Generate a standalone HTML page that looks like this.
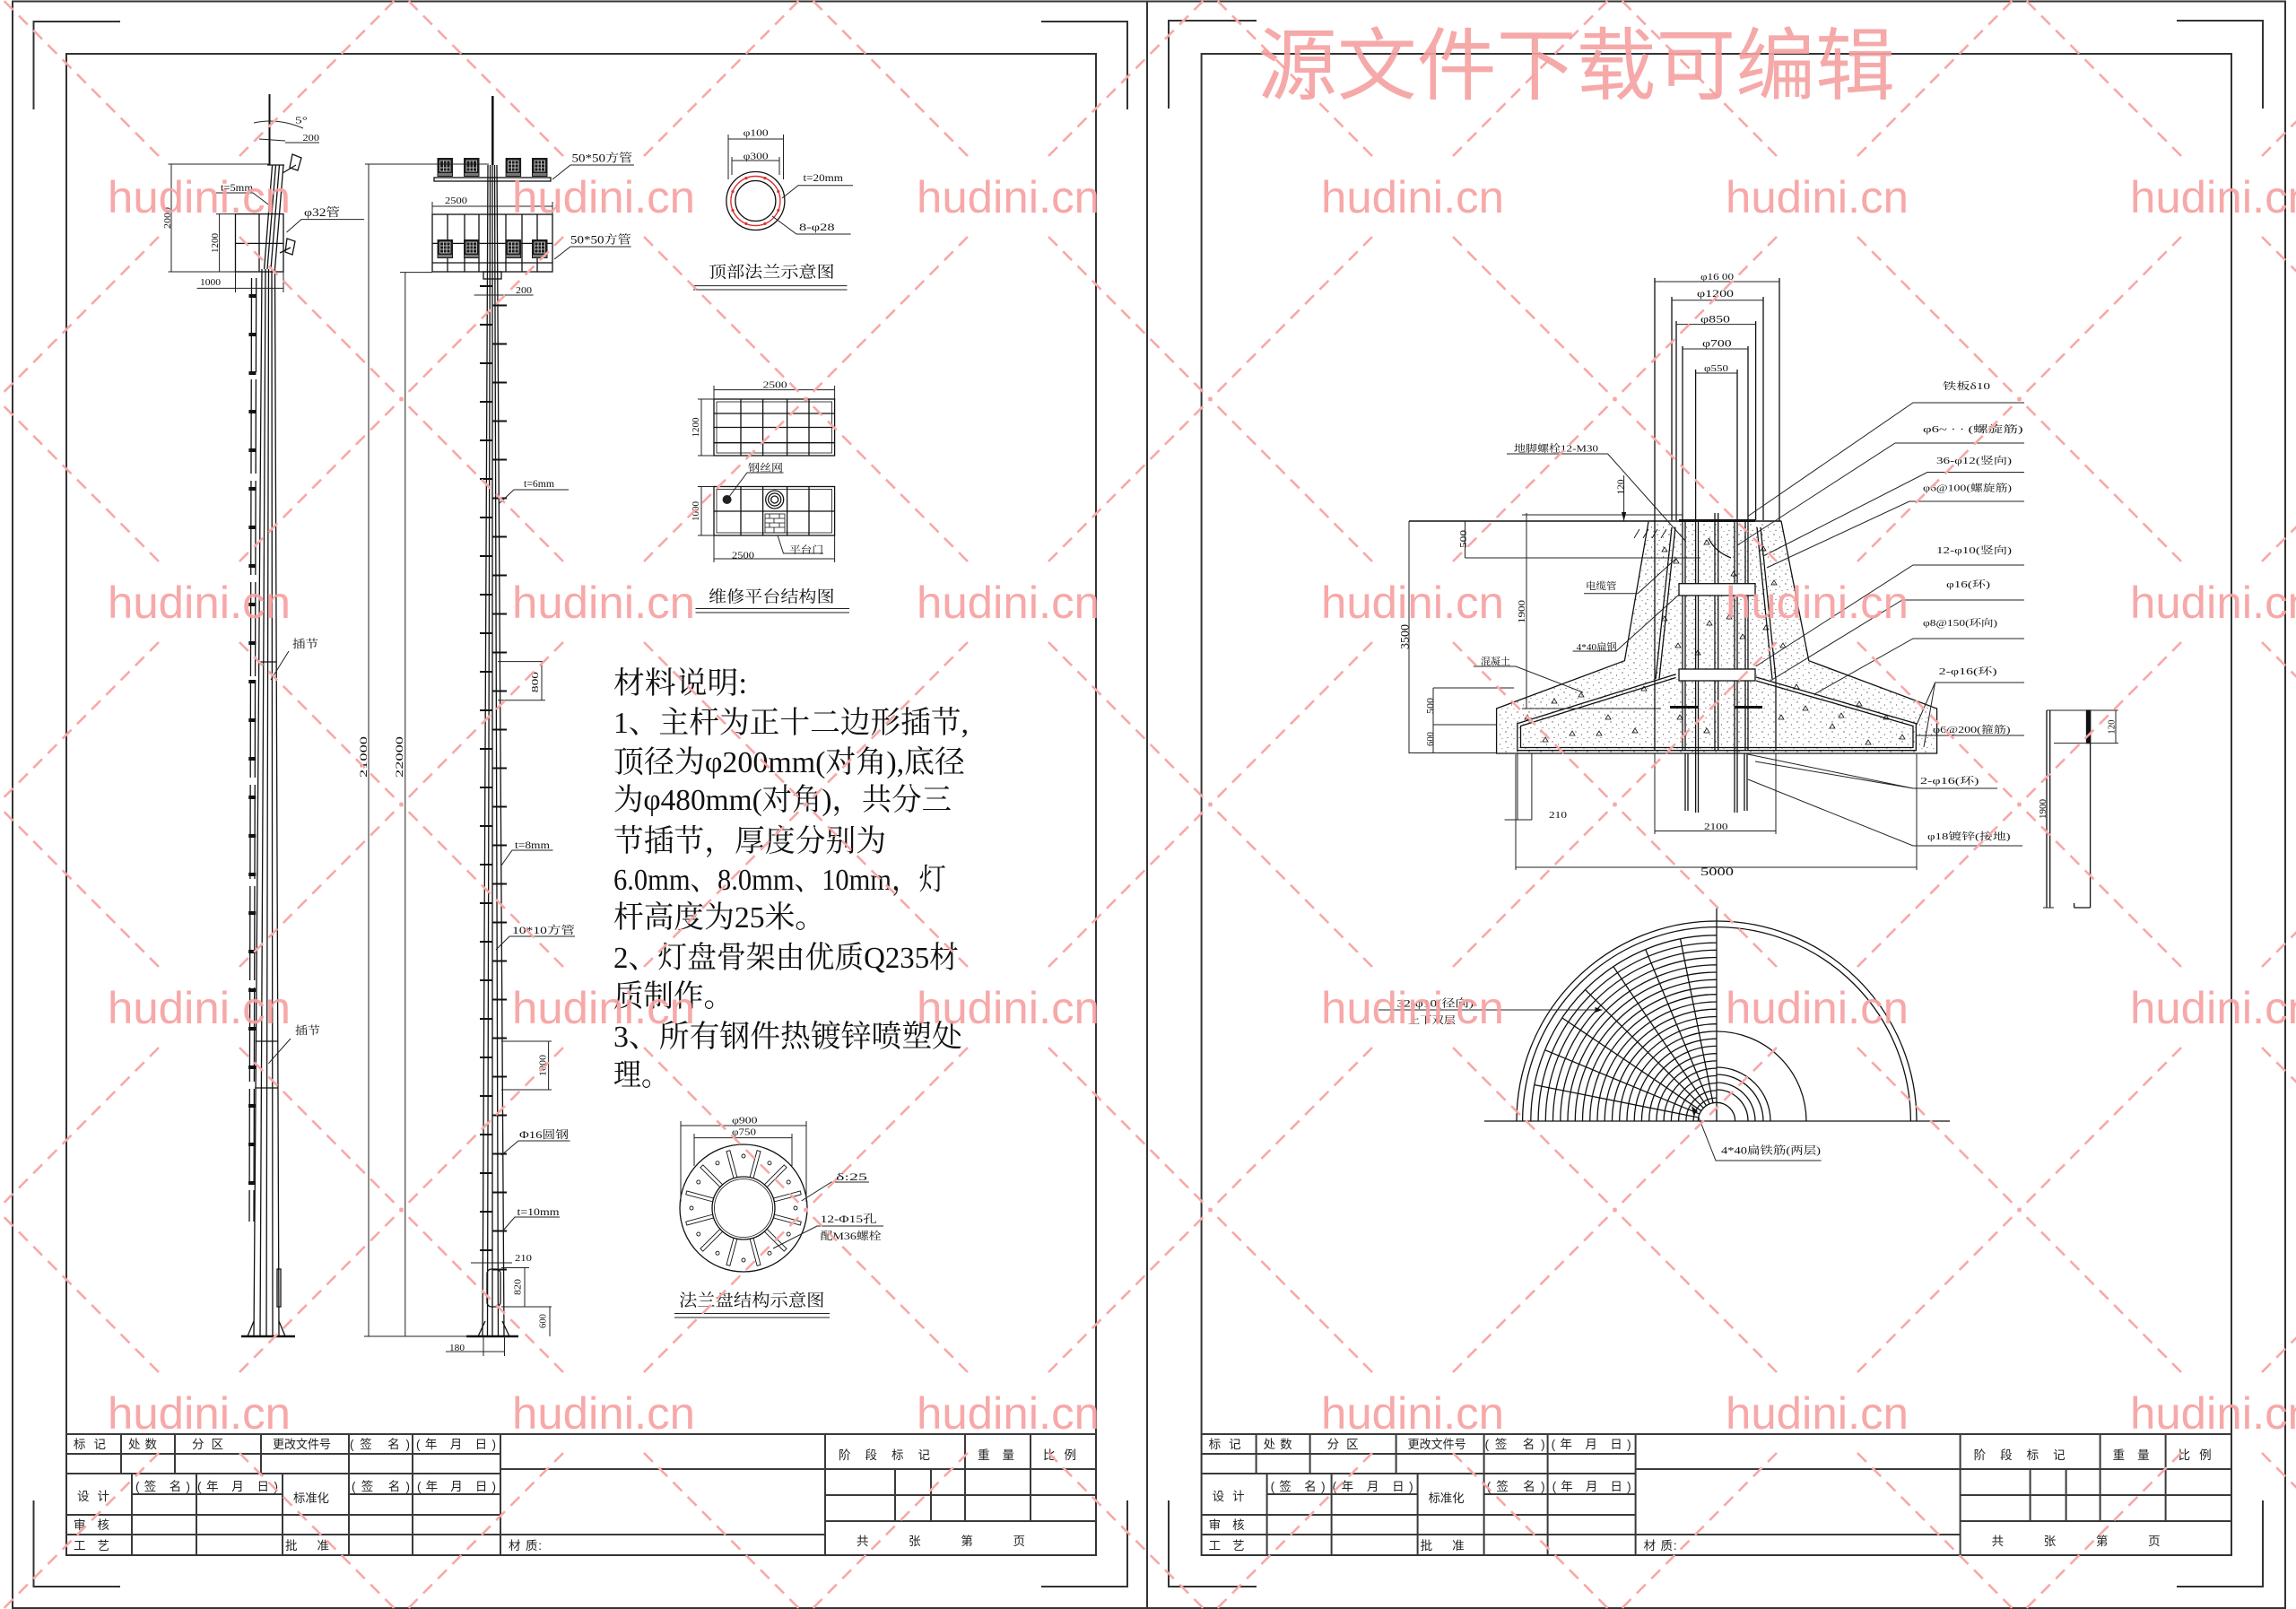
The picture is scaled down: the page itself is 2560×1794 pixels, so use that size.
<!DOCTYPE html>
<html><head><meta charset="utf-8">
<style>
html,body{margin:0;padding:0;background:#fff}
svg{display:block}
.k{fill:none;stroke:#111;stroke-width:1.3}
.d{fill:none;stroke:#222;stroke-width:1}
.fr{fill:none;stroke:#333;stroke-width:2}
.tb{fill:none;stroke:#3a3a3a;stroke-width:2}
.s{font-family:"Liberation Serif","Noto Serif CJK SC",serif;fill:#111}
.g{font-family:"Liberation Sans","Noto Sans CJK SC",sans-serif;fill:#222}
.w{font-family:"Liberation Sans",sans-serif;fill:#f6a1a1;font-size:50px}
</style></head>
<body>
<svg width="2560" height="1794" viewBox="0 0 2560 1794" xmlns="http://www.w3.org/2000/svg">
<defs>
<pattern id="wm" patternUnits="userSpaceOnUse" x="-3.5" y="-7" width="451" height="452">
<g stroke="#f9a7a7" stroke-width="2.6" stroke-dasharray="14 9" fill="none">
<line x1="270.5" y1="271" x2="451" y2="452"/>
<line x1="180.5" y1="181" x2="0" y2="0"/>
<line x1="270.5" y1="181" x2="451" y2="0"/>
<line x1="180.5" y1="271" x2="0" y2="452"/>
</g></pattern>
<pattern id="dots" patternUnits="userSpaceOnUse" width="13" height="11">
<circle cx="2" cy="2" r="0.7" fill="#555"/><circle cx="8.5" cy="5" r="0.6" fill="#555"/><circle cx="4" cy="8.5" r="0.6" fill="#555"/><circle cx="11" cy="9.5" r="0.5" fill="#555"/>
</pattern>
<g id="lamp"><rect x="0" y="0" width="17.5" height="21" fill="#1b1b1b"/><rect x="3" y="3" width="11.5" height="12" fill="none" stroke="#ddd" stroke-width="0.8"/><path d="M3 7h11.5M3 11h11.5M7 3v12M10.5 3v12" stroke="#ddd" stroke-width="0.8"/><rect x="1" y="17" width="15.5" height="3" fill="#777"/></g>
<clipPath id="lq"><rect x="1680" y="1020" width="234" height="230"/></clipPath>
<clipPath id="rq"><rect x="1914" y="1020" width="240" height="230"/></clipPath>
<clipPath id="up"><rect x="1680" y="1010" width="480" height="240"/></clipPath>
</defs>
<rect width="2560" height="1794" fill="#fff"/>

<!-- frames -->
<rect x="14" y="1.5" width="1265" height="1791.5" class="fr" stroke-width="1.5"/>
<rect x="1279" y="1.5" width="1269" height="1791.5" class="fr" stroke-width="1.5"/>
<rect x="74" y="60" width="1148" height="1674" class="fr"/>
<rect x="1339.6" y="60" width="1148.4" height="1674" class="fr"/>
<path class="fr" stroke-width="1.6" d="M37.5 122V24H134 M1161 24H1257V122 M37.5 1673V1769H134 M1161 1769H1257V1673 M1303 121V23H1401 M2427 23H2523V121 M1303 1673V1769H1401 M2427 1769H2523V1673"/>

<!-- ===== LEFT SHEET: POLE A ===== -->
<g class="k">
<path d="M300.5 105V184" stroke-width="2"/>
<path d="M298 184H317 M303.6 184L294.6 300 M316 184L306.5 300 M307.5 184L298 300 M311.5 184L302 300"/>
<path d="M292 300L283 1490 M306.5 300L311 1490 M296 300L290 1490 M299.5 300L297 1490 M303 300L304 1490"/>
<rect x="262.5" y="238.6" width="53.5" height="64.4"/>
<path d="M262.5 271.4H316 M289 238.6V303"/>
<path d="M315 193L330 184 M326 172l10 4-4 14-9-3z M312 282L324 276 M320 266l9 3-3 15-8-3z"/>
<path d="M285.7 310L283 1362 M280.5 310L278 1362" stroke-dasharray="105 8"/>
<line x1="281.5" y1="328" x2="281" y2="1350" stroke-width="8" stroke-dasharray="4 39"/>
<path d="M288.7 738H308.2 M284.6 1161H310.2 M284.2 1213H310.4"/>
<path d="M269 1490H329" stroke-width="2.5"/>
<path d="M283 1473L276 1490 M311 1473L318 1490"/>
<rect x="309" y="1415" width="4" height="42"/>
</g>
<g class="d">
<path d="M187.5 183H300 M187.5 303H262.5 M241 238.6H262.5 M191 183V303 M244.6 238.6V303"/>
<path d="M219.6 321.4H316 M262.5 303V326 M316 303V326"/>
<path d="M283 137Q310 131 338 143 M289 155L318 157 M318 159H356"/>
<path d="M241 215H282L300 228.6 M406 244.6H336L319.6 259"/>
<path d="M322 726L302 758 M324 1158L299.4 1185.7"/>
</g>
<text class="s" font-size="10" x="329" y="137.5" textLength="14" lengthAdjust="spacingAndGlyphs">5°</text>
<text class="s" font-size="11" x="337.5" y="157" textLength="18.5" lengthAdjust="spacingAndGlyphs">200</text>
<text class="s" font-size="11" transform="translate(186,243) rotate(-90)" y="4" text-anchor="middle" textLength="24" lengthAdjust="spacingAndGlyphs">2000</text>
<text class="s" font-size="11" transform="translate(239,271) rotate(-90)" y="4" text-anchor="middle" textLength="22" lengthAdjust="spacingAndGlyphs">1200</text>
<text class="s" font-size="11" x="223" y="318" textLength="23" lengthAdjust="spacingAndGlyphs">1000</text>
<text class="s" font-size="12" x="246" y="213" textLength="36" lengthAdjust="spacingAndGlyphs">t=5mm</text>
<text class="s" font-size="13" x="339" y="241" textLength="40" lengthAdjust="spacingAndGlyphs">φ32管</text>
<text class="s" font-size="12" x="326" y="722" textLength="29" lengthAdjust="spacingAndGlyphs">插节</text>
<text class="s" font-size="12" x="329" y="1153" textLength="28" lengthAdjust="spacingAndGlyphs">插节</text>

<!-- ===== POLE B ===== -->
<g class="k">
<path d="M549.3 107V184" stroke-width="2.5"/>
<path d="M544 184L538 1490 M554 184L562 1490 M549 184V1490 M546.5 184L543.5 1490 M551.5 184L555.5 1490"/>
<line x1="542" y1="318" x2="542" y2="1400" stroke-width="14" stroke-dasharray="2 41"/>
<line x1="557" y1="339.5" x2="557" y2="1420" stroke-width="16" stroke-dasharray="2 41"/>
<rect x="484" y="198" width="130" height="4"/>
<rect x="482" y="239" width="134" height="64"/>
<path d="M499 239V303 M518 239V303 M534 239V303 M564 239V303 M582 239V303 M599 239V303 M482 271.4H616 M482 293H616"/>
<rect x="539" y="303" width="20" height="8"/>
<rect x="543" y="1415" width="15" height="42" rx="5"/>
<path d="M520 1490H578" stroke-width="2.5"/>
<path d="M541 1473L533 1490 M560 1473L568 1490"/>
</g>
<use href="#lamp" x="487.5" y="176"/><use href="#lamp" x="517" y="176"/><use href="#lamp" x="563.6" y="176"/><use href="#lamp" x="593" y="176"/>
<use href="#lamp" x="487.5" y="267"/><use href="#lamp" x="517" y="267"/><use href="#lamp" x="563.6" y="267"/><use href="#lamp" x="593" y="267"/>
<g class="d">
<path d="M482 230H616 M482 225V239 M616 225V239"/>
<path d="M707 184H636L616 200 M703.6 275H636L618 289"/>
<path d="M411 183V1490 M407 183H545 M451.8 303.6V1490 M446 303.6H482 M406 1490H522"/>
<path d="M528.6 329H594.6 M634 546H573L557 561"/>
<path d="M555 737.6H608 M555 780.7H608 M604 737.6V780.7"/>
<path d="M616.5 948H571L559 965 M641 1044H568L553 1059 M635.5 1272H578L559 1288 M624 1357H574L560 1373"/>
<path d="M559 1161H615 M559 1215H615 M611.6 1161V1215"/>
<path d="M525 1408H571 M585 1413.5V1457 M559 1413.5H590 M559 1457H615 M613 1457V1490 M497 1507H562.5 M539 1490V1512 M562.5 1490V1512"/>
</g>
<text class="s" font-size="13" x="637.5" y="180.5" textLength="67.5" lengthAdjust="spacingAndGlyphs">50*50方管</text>
<text class="s" font-size="13" x="636" y="271.5" textLength="67.6" lengthAdjust="spacingAndGlyphs">50*50方管</text>
<text class="s" font-size="11" x="496" y="227" textLength="25" lengthAdjust="spacingAndGlyphs">2500</text>
<text class="s" font-size="11" x="575" y="327" textLength="18" lengthAdjust="spacingAndGlyphs">200</text>
<text class="s" font-size="12" x="584" y="543" textLength="34" lengthAdjust="spacingAndGlyphs">t=6mm</text>
<text class="s" font-size="12" transform="translate(405,844) rotate(-90)" y="4" text-anchor="middle" textLength="46" lengthAdjust="spacingAndGlyphs">21000</text>
<text class="s" font-size="12" transform="translate(445,844) rotate(-90)" y="4" text-anchor="middle" textLength="46" lengthAdjust="spacingAndGlyphs">22000</text>
<text class="s" font-size="11" transform="translate(596,760.6) rotate(-90)" y="4" text-anchor="middle" textLength="23" lengthAdjust="spacingAndGlyphs">800</text>
<text class="s" font-size="12" x="574" y="946" textLength="39" lengthAdjust="spacingAndGlyphs">t=8mm</text>
<text class="s" font-size="12" x="571" y="1041" textLength="70" lengthAdjust="spacingAndGlyphs">10*10方管</text>
<text class="s" font-size="11" transform="translate(604.6,1188) rotate(-90)" y="4" text-anchor="middle" textLength="24" lengthAdjust="spacingAndGlyphs">1000</text>
<text class="s" font-size="12" x="579" y="1269" textLength="55" lengthAdjust="spacingAndGlyphs">Φ16圆钢</text>
<text class="s" font-size="12" x="576.5" y="1355" textLength="47" lengthAdjust="spacingAndGlyphs">t=10mm</text>
<text class="s" font-size="11" x="574" y="1406" textLength="19" lengthAdjust="spacingAndGlyphs">210</text>
<text class="s" font-size="11" transform="translate(576.5,1435) rotate(-90)" y="4" text-anchor="middle" textLength="18" lengthAdjust="spacingAndGlyphs">820</text>
<text class="s" font-size="11" transform="translate(604.6,1473) rotate(-90)" y="4" text-anchor="middle" textLength="16" lengthAdjust="spacingAndGlyphs">600</text>
<text class="s" font-size="11" x="501" y="1506" textLength="17" lengthAdjust="spacingAndGlyphs">180</text>

<!-- ===== TOP FLANGE ===== -->
<g class="k">
<circle cx="842.4" cy="224" r="32.5"/>
<circle cx="842.4" cy="224" r="22.5"/>
<circle cx="842.4" cy="224" r="27.5" stroke="#e03030" stroke-width="1.4"/>
</g>
<g fill="#e03030">
<circle cx="867.8" cy="234.5" r="1.6"/><circle cx="852.9" cy="249.4" r="1.6"/><circle cx="831.9" cy="249.4" r="1.6"/><circle cx="817" cy="234.5" r="1.6"/>
<circle cx="817" cy="213.5" r="1.6"/><circle cx="831.9" cy="198.6" r="1.6"/><circle cx="852.9" cy="198.6" r="1.6"/><circle cx="867.8" cy="213.5" r="1.6"/>
</g>
<g class="d">
<path d="M812 155H873.5 M812 150V200 M873.5 150V200 M816 179H869 M816 175V195 M869 175V195"/>
<path d="M951 206.7H890L872 221 M948.6 261H888L861 241"/>
<path d="M773 318.6H944.5 M773 323H944.5"/>
</g>
<text class="s" font-size="10" x="828.6" y="151.5" textLength="28" lengthAdjust="spacingAndGlyphs">φ100</text>
<text class="s" font-size="10" x="828.6" y="177.5" textLength="28" lengthAdjust="spacingAndGlyphs">φ300</text>
<text class="s" font-size="12" x="895.5" y="202" textLength="44.5" lengthAdjust="spacingAndGlyphs">t=20mm</text>
<text class="s" font-size="12" x="891" y="257" textLength="39.6" lengthAdjust="spacingAndGlyphs">8-φ28</text>
<text class="s" font-size="18" x="790" y="309.5" textLength="140.6" lengthAdjust="spacingAndGlyphs">顶部法兰示意图</text>

<!-- ===== PLATFORM ===== -->
<g class="k">
<rect x="796" y="445" width="134.6" height="63"/>
<rect x="799" y="448" width="128.6" height="57" stroke-width="0.8"/>
<path d="M796 461H930.6 M796 476.5H930.6 M796 493.7H930.6 M826 445V508 M850.6 445V508 M877.6 445V508 M902 445V508"/>
<rect x="796" y="542.5" width="134.6" height="54.5"/>
<rect x="799" y="545.5" width="128.6" height="48.5" stroke-width="0.8"/>
<path d="M796 570H930.6 M826 542.5V597 M850.6 542.5V597 M877.6 542.5V597 M902 542.5V597"/>
<circle cx="863.7" cy="557" r="10"/><circle cx="863.7" cy="557" r="7"/><circle cx="863.7" cy="557" r="4"/>
<rect x="853" y="573" width="22" height="21" stroke-width="0.8"/>
<path d="M853 578H875 M853 583H875 M853 588H875 M858 573V578 M869 573V578 M863 578V583 M858 583V588 M869 583V588 M863 588V594" stroke-width="0.8"/>
</g>
<circle cx="810.6" cy="557" r="5" fill="#222"/>
<g class="d">
<path d="M796 434.6H930.6 M796 430V445 M930.6 430V445 M782 445V508 M778 445H796 M778 508H796"/>
<path d="M782 542.5V597 M778 542.5H796 M778 597H796 M796 623H930.6 M796 597V627 M930.6 597V627"/>
<path d="M873.5 527H833L810.6 557 M867 597L873.5 617H918"/>
<path d="M775.5 678.5H947 M775.5 683H947"/>
</g>
<text class="s" font-size="10" x="850.6" y="432.5" textLength="27" lengthAdjust="spacingAndGlyphs">2500</text>
<text class="s" font-size="10" transform="translate(775.5,476.5) rotate(-90)" y="3.5" text-anchor="middle" textLength="22" lengthAdjust="spacingAndGlyphs">1200</text>
<text class="s" font-size="11" x="834" y="525" textLength="39" lengthAdjust="spacingAndGlyphs">钢丝网</text>
<text class="s" font-size="10" transform="translate(775.5,570) rotate(-90)" y="3.5" text-anchor="middle" textLength="22" lengthAdjust="spacingAndGlyphs">1000</text>
<text class="s" font-size="10" x="816" y="622.5" textLength="25" lengthAdjust="spacingAndGlyphs">2500</text>
<text class="s" font-size="11" x="880" y="616.5" textLength="38" lengthAdjust="spacingAndGlyphs">平台门</text>
<text class="s" font-size="18" x="790" y="671.5" textLength="140.6" lengthAdjust="spacingAndGlyphs">维修平台结构图</text>

<!-- ===== TEXT BLOCK ===== -->
<g class="s" font-size="34">
<text x="684" y="773" textLength="149" lengthAdjust="spacingAndGlyphs">材料说明:</text>
<text x="684" y="817" textLength="396" lengthAdjust="spacingAndGlyphs">1、主杆为正十二边形插节,</text>
<text x="684" y="861" textLength="392" lengthAdjust="spacingAndGlyphs">顶径为φ200mm(对角),底径</text>
<text x="684" y="903" textLength="377" lengthAdjust="spacingAndGlyphs">为φ480mm(对角)，共分三</text>
<text x="684" y="949" textLength="304" lengthAdjust="spacingAndGlyphs">节插节，厚度分别为</text>
<text x="684" y="992" textLength="371" lengthAdjust="spacingAndGlyphs">6.0mm、8.0mm、10mm，灯</text>
<text x="684" y="1034" textLength="236" lengthAdjust="spacingAndGlyphs">杆高度为25米。</text>
<text x="684" y="1079" textLength="385" lengthAdjust="spacingAndGlyphs">2、灯盘骨架由优质Q235材</text>
<text x="684" y="1122" textLength="134" lengthAdjust="spacingAndGlyphs">质制作。</text>
<text x="684" y="1167" textLength="389" lengthAdjust="spacingAndGlyphs">3、所有钢件热镀锌喷塑处</text>
<text x="684" y="1210" textLength="62" lengthAdjust="spacingAndGlyphs">理。</text>
</g>

<!-- ===== FLANGE PLATE ===== -->
<g class="k">
<circle cx="829" cy="1347" r="71"/>
<circle cx="829" cy="1347" r="35"/>
<circle cx="829" cy="1347" r="32.5" stroke-width="0.8"/>
<g transform="translate(829,1347)" stroke-width="0.9">
<rect x="35" y="-2" width="31" height="4" transform="rotate(15)"/><rect x="35" y="-2" width="31" height="4" transform="rotate(45)"/>
<rect x="35" y="-2" width="31" height="4" transform="rotate(75)"/><rect x="35" y="-2" width="31" height="4" transform="rotate(105)"/>
<rect x="35" y="-2" width="31" height="4" transform="rotate(135)"/><rect x="35" y="-2" width="31" height="4" transform="rotate(165)"/>
<rect x="35" y="-2" width="31" height="4" transform="rotate(195)"/><rect x="35" y="-2" width="31" height="4" transform="rotate(225)"/>
<rect x="35" y="-2" width="31" height="4" transform="rotate(255)"/><rect x="35" y="-2" width="31" height="4" transform="rotate(285)"/>
<rect x="35" y="-2" width="31" height="4" transform="rotate(315)"/><rect x="35" y="-2" width="31" height="4" transform="rotate(345)"/>
<circle cx="58" cy="0" r="2"/><circle cx="58" cy="0" r="2" transform="rotate(30)"/><circle cx="58" cy="0" r="2" transform="rotate(60)"/>
<circle cx="58" cy="0" r="2" transform="rotate(90)"/><circle cx="58" cy="0" r="2" transform="rotate(120)"/><circle cx="58" cy="0" r="2" transform="rotate(150)"/>
<circle cx="58" cy="0" r="2" transform="rotate(180)"/><circle cx="58" cy="0" r="2" transform="rotate(210)"/><circle cx="58" cy="0" r="2" transform="rotate(240)"/>
<circle cx="58" cy="0" r="2" transform="rotate(270)"/><circle cx="58" cy="0" r="2" transform="rotate(300)"/><circle cx="58" cy="0" r="2" transform="rotate(330)"/>
</g>
</g>
<g class="d">
<path d="M759 1255H899 M774 1268.6H883 M759 1250V1340 M899 1250V1340 M774 1264V1300 M883 1264V1300"/>
<path d="M969 1318H927L893.6 1339 M985 1367H911L862 1392"/>
<path d="M752 1464.5H925 M752 1469H925"/>
</g>
<text class="s" font-size="10" x="816" y="1252.5" textLength="28.5" lengthAdjust="spacingAndGlyphs">φ900</text>
<text class="s" font-size="10" x="816" y="1265.5" textLength="27" lengthAdjust="spacingAndGlyphs">φ750</text>
<text class="s" font-size="12" x="932" y="1316" textLength="35" lengthAdjust="spacingAndGlyphs">δ:25</text>
<text class="s" font-size="12" x="914.6" y="1363" textLength="63" lengthAdjust="spacingAndGlyphs">12-Φ15孔</text>
<text class="s" font-size="12" x="914.6" y="1382" textLength="68" lengthAdjust="spacingAndGlyphs">配M36螺栓</text>
<text class="s" font-size="19" x="757" y="1456" textLength="162.5" lengthAdjust="spacingAndGlyphs">法兰盘结构示意图</text>

<!-- ===== TITLE BLOCKS ===== -->
<g>
<path class="tb" d="M74 1599H1222 M74 1621H558 M74 1643H558 M147 1666H315 M389 1666H558 M74 1689H558 M74 1711H920 M558 1638H1222 M920 1667H1222 M920 1696H1222 M135 1599V1643 M195 1599V1643 M291 1599V1643 M389 1599V1734 M460 1599V1734 M558 1599V1734 M147 1643V1734 M219 1643V1734 M315 1643V1734 M920 1599V1734 M1076 1599V1696 M1149 1599V1696 M998 1638V1696 M1038 1638V1696"/>
<g class="g" font-size="13.5">
<text x="82" y="1615" textLength="36" lengthAdjust="spacing">标 记</text>
<text x="143" y="1615" textLength="32" lengthAdjust="spacing">处 数</text>
<text x="214" y="1615" textLength="35" lengthAdjust="spacing">分 区</text>
<text x="304" y="1615" textLength="65" lengthAdjust="spacingAndGlyphs">更改文件号</text>
<text x="390" y="1615" textLength="67" lengthAdjust="spacing">(签 名)</text>
<text x="464" y="1615" textLength="89" lengthAdjust="spacing">(年 月 日)</text>
<text x="935" y="1627" textLength="102" lengthAdjust="spacing">阶 段 标 记</text>
<text x="1090" y="1627" textLength="41" lengthAdjust="spacing">重 量</text>
<text x="1163" y="1627" textLength="37" lengthAdjust="spacing">比 例</text>
<text x="86" y="1673" textLength="36" lengthAdjust="spacing">设 计</text>
<text x="151" y="1662" textLength="61" lengthAdjust="spacing">(签 名)</text>
<text x="220" y="1662" textLength="90" lengthAdjust="spacing">(年 月 日)</text>
<text x="327" y="1675" textLength="40" lengthAdjust="spacingAndGlyphs">标准化</text>
<text x="392" y="1662" textLength="65" lengthAdjust="spacing">(签 名)</text>
<text x="465" y="1662" textLength="88" lengthAdjust="spacing">(年 月 日)</text>
<text x="82" y="1705" textLength="40" lengthAdjust="spacing">审 核</text>
<text x="82" y="1728" textLength="40" lengthAdjust="spacing">工 艺</text>
<text x="318" y="1728" textLength="49" lengthAdjust="spacing">批 准</text>
<text x="567" y="1728" textLength="37" lengthAdjust="spacing">材 质:</text>
<text x="955" y="1723" textLength="188" lengthAdjust="spacing">共 张 第 页</text>
</g>
</g>
<g transform="translate(1265.6,0)">
<path class="tb" d="M74 1599H1222 M74 1621H558 M74 1643H558 M147 1666H315 M389 1666H558 M74 1689H558 M74 1711H920 M558 1638H1222 M920 1667H1222 M920 1696H1222 M135 1599V1643 M195 1599V1643 M291 1599V1643 M389 1599V1734 M460 1599V1734 M558 1599V1734 M147 1643V1734 M219 1643V1734 M315 1643V1734 M920 1599V1734 M1076 1599V1696 M1149 1599V1696 M998 1638V1696 M1038 1638V1696"/>
<g class="g" font-size="13.5">
<text x="82" y="1615" textLength="36" lengthAdjust="spacing">标 记</text>
<text x="143" y="1615" textLength="32" lengthAdjust="spacing">处 数</text>
<text x="214" y="1615" textLength="35" lengthAdjust="spacing">分 区</text>
<text x="304" y="1615" textLength="65" lengthAdjust="spacingAndGlyphs">更改文件号</text>
<text x="390" y="1615" textLength="67" lengthAdjust="spacing">(签 名)</text>
<text x="464" y="1615" textLength="89" lengthAdjust="spacing">(年 月 日)</text>
<text x="935" y="1627" textLength="102" lengthAdjust="spacing">阶 段 标 记</text>
<text x="1090" y="1627" textLength="41" lengthAdjust="spacing">重 量</text>
<text x="1163" y="1627" textLength="37" lengthAdjust="spacing">比 例</text>
<text x="86" y="1673" textLength="36" lengthAdjust="spacing">设 计</text>
<text x="151" y="1662" textLength="61" lengthAdjust="spacing">(签 名)</text>
<text x="220" y="1662" textLength="90" lengthAdjust="spacing">(年 月 日)</text>
<text x="327" y="1675" textLength="40" lengthAdjust="spacingAndGlyphs">标准化</text>
<text x="392" y="1662" textLength="65" lengthAdjust="spacing">(签 名)</text>
<text x="465" y="1662" textLength="88" lengthAdjust="spacing">(年 月 日)</text>
<text x="82" y="1705" textLength="40" lengthAdjust="spacing">审 核</text>
<text x="82" y="1728" textLength="40" lengthAdjust="spacing">工 艺</text>
<text x="318" y="1728" textLength="49" lengthAdjust="spacing">批 准</text>
<text x="567" y="1728" textLength="37" lengthAdjust="spacing">材 质:</text>
<text x="955" y="1723" textLength="188" lengthAdjust="spacing">共 张 第 页</text>
</g>
</g>

<!-- ===== RIGHT SHEET: FOUNDATION ===== -->
<path d="M1838 581.7L1811.4 736.7L1668.6 790V840H2159.6V790L2016.8 736.7L1986 580.7Z" fill="url(#dots)" stroke="none"/>
<g class="k">
<path d="M1838 581.7L1811.4 736.7L1668.6 790V840H2159.6V790L2016.8 736.7L1986 580.7"/>
<path d="M1571 581H1986" stroke-width="1.5"/>
<path d="M1872 580.5H1957" stroke-width="3"/>
<path d="M1845 310V837 M1984 310V581 M1864 331V580 M1966 331V580 M1869 358V580 M1957.6 358V580 M1876 386V837 M1949 386V837 M1879 581V837 M1946 581V837 M1890.6 412V906 M1893.5 581V906 M1937 412V906 M1934 581V906 M1912 572V837 M1915.7 572V837"/>
<path d="M1868.6 751.7L1691.8 806.7V836.7H2136.4V806.7L1958 755 M1868.6 755.5L1695.5 809.5V833.5H2133V809.5L1958 759"/>
<path d="M1864 588L1846 757 M1963 588L1980 757V837 M1868 588L1850 757 M1959 588L1976 757"/>
<rect x="1872" y="650.7" width="85" height="13.3" fill="#fff"/>
<rect x="1872" y="746" width="85" height="13" fill="#fff"/>
<path d="M1862 788.5H1893.6 M1934.6 788.5H1965" stroke-width="3"/>
<path d="M1879 840V904 M1882 840V904 M1945 840V904 M1948 840V904"/>
<path d="M1905 600Q1912 615 1930 622" />
<path d="M1822 600L1828 590 M1832 600L1838 590 M1842 600L1848 590 M1852 600L1858 590" stroke-width="0.9"/>
<path stroke-width="0.8" d="M1853 615l3-5 3 5z M1866 628l3-5 3 5z M1900 607l3-5 3 5z M1930 642l3-5 3 5z M1963 614l3-5 3 5z M1975 652l3-5 3 5z M1853 692l3-5 3 5z M1868 722l3-5 3 5z M1903 697l3-5 3 5z M1940 712l3-5 3 5z M1966 702l3-5 3 5z M1985 722l3-5 3 5z M1700 802l3-5 3 5z M1730 784l3-5 3 5z M1760 777l3-5 3 5z M1790 802l3-5 3 5z M1820 817l3-5 3 5z M1870 802l3-5 3 5z M1900 817l3-5 3 5z M1983 802l3-5 3 5z M2010 792l3-5 3 5z M2040 812l3-5 3 5z M2070 787l3-5 3 5z M2100 802l3-5 3 5z M2118 824l3-5 3 5z M1720 827l3-5 3 5z M1750 820l3-5 3 5z M2080 830l3-5 3 5z M1830 770l3-5 3 5z M2000 768l3-5 3 5z M1925 690l3-5 3 5z M1890 730l3-5 3 5z M2050 800l3-5 3 5z M1780 820l3-5 3 5z"/>
</g>
<g class="d">
<path d="M1845 314H1984 M1864 334.7H1966 M1869 361.6H1957.6 M1876 389H1949 M1890.6 416H1937"/>
<path d="M1697 574H1876 M1633.5 622H1896 M1571 581V839.5H1668.6 M1633.5 581V622 M1702 572V790 M1697 790H1852"/>
<path d="M1598 767V839 M1598 767H1688 M1598 808H1668.6 M1810.6 530V581"/>
<path d="M1692 840V914 M1707.9 840V914 M1677.6 914H1708 M1845 840V930 M1980 840V930 M1845 926.5H1980 M1690 841V970 M2137 841V970 M1690 967H2137"/>
<path d="M1680 506H1792.6L1880 604 M1766 661.7H1826L1868.6 623 M1753.5 726H1802L1872 663 M1643 743H1690L1765 772"/>
<path d="M2257 449H2133L1949 575.5 M2257 494H2113L1937 608 M2257 526.5H2149L1966 620 M2257 559H2129L1970 633"/>
<path d="M2257 630H2133L1957.6 743 M2257 669H2121L1974 759 M2257 712H2133L2023 774 M2257 761H2157.6L2137 808 M2157.6 761L2145 833"/>
<path d="M2257 820H2137 M2227 879H2133L1949 841 M2133 879L1957 849 M2255 943H2133L1949 869"/>
</g>
<path d="M1808 571l2.6 10 2.6-10z" fill="#111"/>
<g class="s" font-size="11">
<text x="1896" y="312" textLength="37" lengthAdjust="spacingAndGlyphs">φ16 00</text>
<text x="1892" y="331" font-size="12" textLength="41" lengthAdjust="spacingAndGlyphs">φ1200</text>
<text x="1896" y="359.5" font-size="12" textLength="33" lengthAdjust="spacingAndGlyphs">φ850</text>
<text x="1898" y="386.5" font-size="12" textLength="32.6" lengthAdjust="spacingAndGlyphs">φ700</text>
<text x="1900" y="414" font-size="10" textLength="27" lengthAdjust="spacingAndGlyphs">φ550</text>
<text x="2166" y="434" textLength="53" lengthAdjust="spacingAndGlyphs">铁板δ10</text>
<text x="2144" y="482" textLength="111.5" lengthAdjust="spacingAndGlyphs">φ6~ · · (螺旋筋)</text>
<text x="2159" y="517" textLength="84" lengthAdjust="spacingAndGlyphs">36-φ12(竖向)</text>
<text x="2144" y="547.7" textLength="99" lengthAdjust="spacingAndGlyphs">φ6@100(螺旋筋)</text>
<text x="2159" y="617" textLength="84" lengthAdjust="spacingAndGlyphs">12-φ10(竖向)</text>
<text x="2170" y="655" textLength="49" lengthAdjust="spacingAndGlyphs">φ16(环)</text>
<text x="2144" y="698" textLength="83" lengthAdjust="spacingAndGlyphs">φ8@150(环向)</text>
<text x="2161.6" y="752" textLength="65" lengthAdjust="spacingAndGlyphs">2-φ16(环)</text>
<text x="2155" y="817" textLength="86.6" lengthAdjust="spacingAndGlyphs">φ6@200(箍筋)</text>
<text x="2141" y="874" textLength="65.5" lengthAdjust="spacingAndGlyphs">2-φ16(环)</text>
<text x="2149" y="936" textLength="92.6" lengthAdjust="spacingAndGlyphs">φ18镀锌(接地)</text>
<text x="1688" y="503.6" textLength="94" lengthAdjust="spacingAndGlyphs">地脚螺栓12-M30</text>
<text x="1768" y="657" textLength="34.5" lengthAdjust="spacingAndGlyphs">电缆管</text>
<text x="1757.6" y="725" textLength="45" lengthAdjust="spacingAndGlyphs">4*40扁钢</text>
<text x="1651" y="741" textLength="33" lengthAdjust="spacingAndGlyphs">混凝土</text>
<text x="1727" y="912" textLength="20" lengthAdjust="spacingAndGlyphs">210</text>
<text x="1900" y="925" textLength="26.5" lengthAdjust="spacingAndGlyphs">2100</text>
<text x="1896" y="976" font-size="13" textLength="37" lengthAdjust="spacingAndGlyphs">5000</text>
<text transform="translate(1806.5,543) rotate(-90)" y="4" text-anchor="middle" textLength="17" lengthAdjust="spacingAndGlyphs">120</text>
<text transform="translate(1631,601) rotate(-90)" y="4" text-anchor="middle" textLength="20" lengthAdjust="spacingAndGlyphs">500</text>
<text transform="translate(1696,682) rotate(-90)" y="4" text-anchor="middle" textLength="26" lengthAdjust="spacingAndGlyphs">1900</text>
<text transform="translate(1566,710) rotate(-90)" y="4.5" font-size="13" text-anchor="middle" textLength="28" lengthAdjust="spacingAndGlyphs">3500</text>
<text transform="translate(1594,787) rotate(-90)" y="4" text-anchor="middle" textLength="18" lengthAdjust="spacingAndGlyphs">500</text>
<text transform="translate(1594,824) rotate(-90)" y="4" text-anchor="middle" textLength="16" lengthAdjust="spacingAndGlyphs">600</text>
<text transform="translate(2353.5,810.6) rotate(-90)" y="4" text-anchor="middle" textLength="16" lengthAdjust="spacingAndGlyphs">120</text>
<text transform="translate(2277,902) rotate(-90)" y="4" text-anchor="middle" textLength="22" lengthAdjust="spacingAndGlyphs">1900</text>
</g>

<!-- L rod -->
<g class="k">
<path d="M2282 792V1012 M2285.7 792V1012 M2330.6 792V1012 M2312.6 1012H2330.6 M2312.6 1007V1012"/>
<rect x="2326.5" y="792" width="4.1" height="36.6" fill="#111"/>
</g>
<path class="d" d="M2282 792H2361.6 M2290 828.6H2362 M2359 792V828.6 M2278 1012H2290"/>

<!-- ===== SEMICIRCLE ===== -->
<g class="k" stroke-width="1">
<g clip-path="url(#up)">
<circle cx="1914" cy="1250" r="223"/><circle cx="1914" cy="1250" r="216.4"/>
</g>
<g clip-path="url(#lq)">
<circle cx="1914" cy="1250" r="20.7"/>
<circle cx="1914" cy="1250" r="25.9"/><circle cx="1914" cy="1250" r="34.1"/><circle cx="1914" cy="1250" r="42.4"/><circle cx="1914" cy="1250" r="50.6"/>
<circle cx="1914" cy="1250" r="58.9"/><circle cx="1914" cy="1250" r="67.1"/><circle cx="1914" cy="1250" r="75.3"/><circle cx="1914" cy="1250" r="83.6"/>
<circle cx="1914" cy="1250" r="91.8"/><circle cx="1914" cy="1250" r="100.1"/><circle cx="1914" cy="1250" r="108.3"/><circle cx="1914" cy="1250" r="116.5"/>
<circle cx="1914" cy="1250" r="124.8"/><circle cx="1914" cy="1250" r="133"/><circle cx="1914" cy="1250" r="141.3"/><circle cx="1914" cy="1250" r="149.5"/>
<circle cx="1914" cy="1250" r="157.7"/><circle cx="1914" cy="1250" r="166"/><circle cx="1914" cy="1250" r="174.2"/><circle cx="1914" cy="1250" r="182.5"/>
<circle cx="1914" cy="1250" r="190.7"/><circle cx="1914" cy="1250" r="198.9"/><circle cx="1914" cy="1250" r="207.2"/>
</g>
<g clip-path="url(#rq)">
<circle cx="1914" cy="1250" r="20.7"/><circle cx="1914" cy="1250" r="35"/><circle cx="1914" cy="1250" r="43"/>
<circle cx="1914" cy="1250" r="52"/><circle cx="1914" cy="1250" r="60"/><circle cx="1914" cy="1250" r="100"/>
</g>
<path d="M1894.4 1246.1L1711 1209.6 M1895.5 1242.3L1722.8 1170.8 M1897.4 1238.9L1741.9 1135 M1899.9 1235.9L1767.6 1103.6 M1902.9 1233.4L1799 1077.9 M1906.3 1231.5L1834.8 1058.8 M1910.1 1230.4L1873.6 1047"/>
<path d="M1914 1012.7V1250 M1655 1250H2174" stroke-width="1.3"/>
</g>
<g class="d">
<path d="M1537 1126H1786.5 M2030.6 1294H1913L1893.7 1245"/>
</g>
<path d="M1786.5 1126l-8-3v6z M1886 1233l2 10 5-4z" fill="#111"/>
<text class="s" font-size="12" x="1557.5" y="1122.3" textLength="85.5" lengthAdjust="spacingAndGlyphs">32-φ10(径向)</text>
<text class="s" font-size="11" x="1570" y="1141" textLength="53" lengthAdjust="spacingAndGlyphs">上下双层</text>
<text class="s" font-size="12" x="1919" y="1286.3" textLength="111" lengthAdjust="spacingAndGlyphs">4*40扁铁筋(两层)</text>

<!-- ===== WATERMARK ===== -->
<rect width="2560" height="1794" fill="url(#wm)"/>
<g class="w" fill-opacity="0.92">
<text x="222" y="237" text-anchor="middle" textLength="204" lengthAdjust="spacingAndGlyphs">hudini.cn</text>
<text x="673" y="237" text-anchor="middle" textLength="204" lengthAdjust="spacingAndGlyphs">hudini.cn</text>
<text x="1124" y="237" text-anchor="middle" textLength="204" lengthAdjust="spacingAndGlyphs">hudini.cn</text>
<text x="1575" y="237" text-anchor="middle" textLength="204" lengthAdjust="spacingAndGlyphs">hudini.cn</text>
<text x="2026" y="237" text-anchor="middle" textLength="204" lengthAdjust="spacingAndGlyphs">hudini.cn</text>
<text x="2477" y="237" text-anchor="middle" textLength="204" lengthAdjust="spacingAndGlyphs">hudini.cn</text>
<text x="222" y="689" text-anchor="middle" textLength="204" lengthAdjust="spacingAndGlyphs">hudini.cn</text>
<text x="673" y="689" text-anchor="middle" textLength="204" lengthAdjust="spacingAndGlyphs">hudini.cn</text>
<text x="1124" y="689" text-anchor="middle" textLength="204" lengthAdjust="spacingAndGlyphs">hudini.cn</text>
<text x="1575" y="689" text-anchor="middle" textLength="204" lengthAdjust="spacingAndGlyphs">hudini.cn</text>
<text x="2026" y="689" text-anchor="middle" textLength="204" lengthAdjust="spacingAndGlyphs">hudini.cn</text>
<text x="2477" y="689" text-anchor="middle" textLength="204" lengthAdjust="spacingAndGlyphs">hudini.cn</text>
<text x="222" y="1141" text-anchor="middle" textLength="204" lengthAdjust="spacingAndGlyphs">hudini.cn</text>
<text x="673" y="1141" text-anchor="middle" textLength="204" lengthAdjust="spacingAndGlyphs">hudini.cn</text>
<text x="1124" y="1141" text-anchor="middle" textLength="204" lengthAdjust="spacingAndGlyphs">hudini.cn</text>
<text x="1575" y="1141" text-anchor="middle" textLength="204" lengthAdjust="spacingAndGlyphs">hudini.cn</text>
<text x="2026" y="1141" text-anchor="middle" textLength="204" lengthAdjust="spacingAndGlyphs">hudini.cn</text>
<text x="2477" y="1141" text-anchor="middle" textLength="204" lengthAdjust="spacingAndGlyphs">hudini.cn</text>
<text x="222" y="1593" text-anchor="middle" textLength="204" lengthAdjust="spacingAndGlyphs">hudini.cn</text>
<text x="673" y="1593" text-anchor="middle" textLength="204" lengthAdjust="spacingAndGlyphs">hudini.cn</text>
<text x="1124" y="1593" text-anchor="middle" textLength="204" lengthAdjust="spacingAndGlyphs">hudini.cn</text>
<text x="1575" y="1593" text-anchor="middle" textLength="204" lengthAdjust="spacingAndGlyphs">hudini.cn</text>
<text x="2026" y="1593" text-anchor="middle" textLength="204" lengthAdjust="spacingAndGlyphs">hudini.cn</text>
<text x="2477" y="1593" text-anchor="middle" textLength="204" lengthAdjust="spacingAndGlyphs">hudini.cn</text>
</g>
<text x="1402" y="104" font-size="88" textLength="711" lengthAdjust="spacingAndGlyphs" fill="#f5a0a0" fill-opacity="0.9" style="font-family:'Liberation Sans','Noto Sans CJK SC',sans-serif">源文件下载可编辑</text>
</svg>
</body></html>
